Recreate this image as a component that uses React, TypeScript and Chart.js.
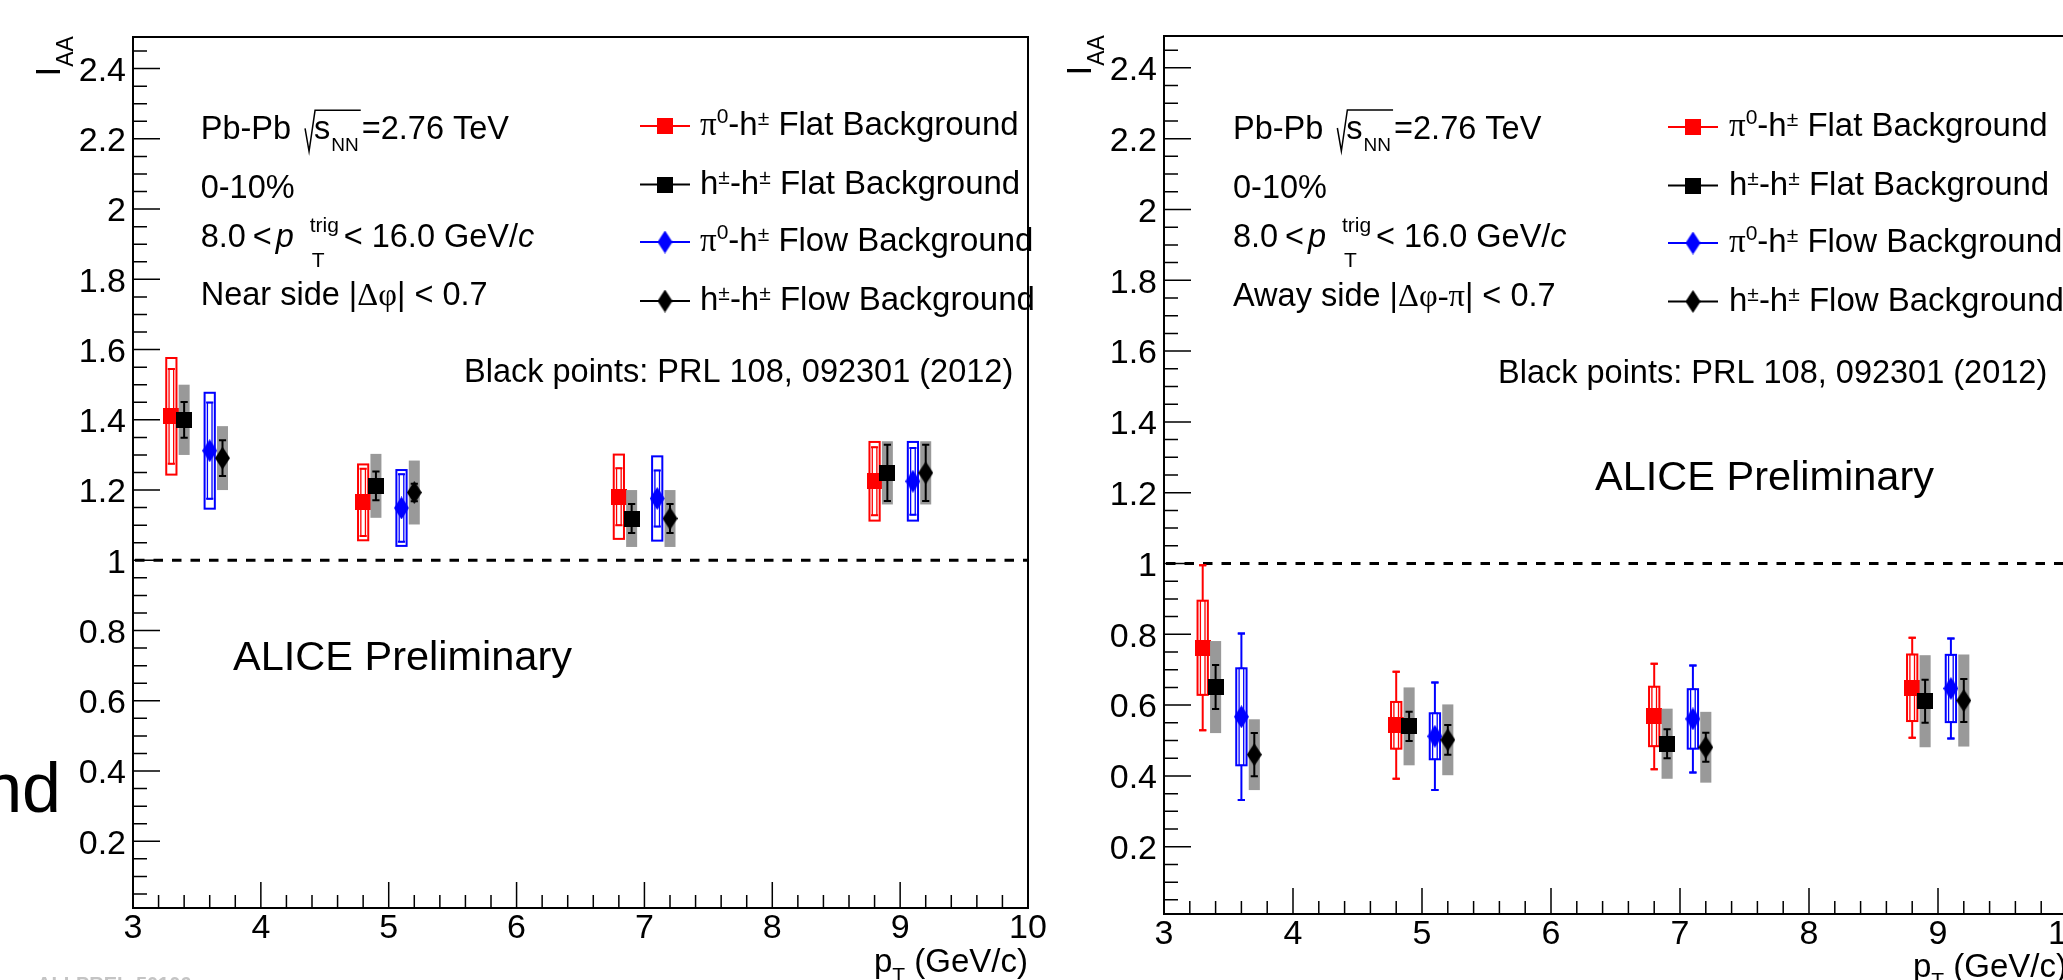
import React, { useEffect, useRef } from "react";
import { Chart, registerables } from "chart.js";

Chart.register(...registerables);

const SANS = '"Liberation Sans", Arial, Helvetica, sans-serif';
const SERIF = '"Liberation Serif", "DejaVu Serif", "Times New Roman", serif';

// ---------------- data ----------------
const PT_PI0_FLAT = [3.3, 4.8, 6.8, 8.8];
const PT_HH_FLAT = [3.4, 4.9, 6.9, 8.9];
const PT_PI0_FLOW = [3.6, 5.1, 7.1, 9.1];
const PT_HH_FLOW = [3.7, 5.2, 7.2, 9.2];

// near side
const NEAR_PI0_FLAT = [1.41, 1.165, 1.181, 1.225];
const NEAR_PI0_FLAT_STAT = [0.135, 0.096, 0.081, 0.097];
const NEAR_PI0_FLAT_SYS = [0.166, 0.108, 0.12, 0.112];
const NEAR_HH_FLAT = [1.4, 1.212, 1.119, 1.249];
const NEAR_HH_FLAT_STAT = [0.051, 0.041, 0.041, 0.08];
const NEAR_HH_FLAT_SYS = [0.1, 0.091, 0.081, 0.09];
const NEAR_PI0_FLOW = [1.312, 1.149, 1.176, 1.225];
const NEAR_PI0_FLOW_STAT = [0.137, 0.096, 0.08, 0.095];
const NEAR_PI0_FLOW_SYS = [0.165, 0.108, 0.12, 0.112];
const NEAR_HH_FLOW = [1.291, 1.193, 1.119, 1.249];
const NEAR_HH_FLOW_STAT = [0.051, 0.025, 0.041, 0.08];
const NEAR_HH_FLOW_SYS = [0.091, 0.091, 0.081, 0.09];

// away side
const AWAY_PI0_FLAT = [0.762, 0.543, 0.568, 0.649];
const AWAY_PI0_FLAT_STAT = [0.233, 0.151, 0.149, 0.141];
const AWAY_PI0_FLAT_SYS = [0.133, 0.066, 0.084, 0.094];
const AWAY_HH_FLAT = [0.651, 0.54, 0.491, 0.611];
const AWAY_HH_FLAT_STAT = [0.062, 0.041, 0.041, 0.061];
const AWAY_HH_FLAT_SYS = [0.13, 0.11, 0.099, 0.13];
const AWAY_PI0_FLOW = [0.567, 0.512, 0.561, 0.647];
const AWAY_PI0_FLOW_STAT = [0.235, 0.152, 0.151, 0.141];
const AWAY_PI0_FLOW_SYS = [0.137, 0.065, 0.084, 0.095];
const AWAY_HH_FLOW = [0.46, 0.502, 0.481, 0.613];
const AWAY_HH_FLOW_STAT = [0.061, 0.042, 0.041, 0.061];
const AWAY_HH_FLOW_SYS = [0.1, 0.1, 0.1, 0.13];

const X_TICKS = [3, 4, 5, 6, 7, 8, 9, 10];
const Y_TICKS = [0.2, 0.4, 0.6, 0.8, 1, 1.2, 1.4, 1.6, 1.8, 2, 2.2, 2.4];
const X_RANGE = [3, 10];
const Y_RANGE = [0.01, 2.49];
const REFERENCE_LINE = 1;

const RED = "#ff0000";
const BLUE = "#0000ff";
const BLACK = "#000000";
const GREY = "#999999";

// ---------------- helpers ----------------
type Seg = { t: string; size?: number; italic?: boolean; serif?: boolean; dy?: number; dx?: number };

function segFont(s: Seg) {
  return `${s.italic ? "italic " : ""}${s.size ?? 32.5}px ${s.serif ? SERIF : SANS}`;
}

function segsWidth(ctx: CanvasRenderingContext2D, segs: Seg[]) {
  let w = 0;
  for (const s of segs) {
    ctx.font = segFont(s);
    w += ctx.measureText(s.t).width;
  }
  return w;
}

function drawSegs(ctx: CanvasRenderingContext2D, x0: number, y0: number, segs: Seg[]) {
  let x = x0;
  ctx.fillStyle = "#000";
  ctx.textAlign = "left";
  ctx.textBaseline = "alphabetic";
  for (const s of segs) {
    ctx.font = segFont(s);
    if (s.dx !== undefined) x = x0 + s.dx;
    ctx.fillText(s.t, x, y0 + (s.dy ?? 0));
    x += ctx.measureText(s.t).width;
  }
  return x;
}

function makeSquare(color: string, size: number) {
  const c = document.createElement("canvas");
  c.width = size;
  c.height = size;
  const g = c.getContext("2d")!;
  g.fillStyle = color;
  g.fillRect(0, 0, size, size);
  return c;
}

function makeDiamond(color: string, w: number, h: number) {
  const c = document.createElement("canvas");
  c.width = w;
  c.height = h;
  const g = c.getContext("2d")!;
  g.fillStyle = color;
  g.beginPath();
  g.moveTo(w / 2, 0);
  g.lineTo(w, h / 2);
  g.lineTo(w / 2, h);
  g.lineTo(0, h / 2);
  g.closePath();
  g.fill();
  return c;
}

const LEG_SIZE = 33;
const PI0: Seg[] = [{ t: "π", serif: true, size: LEG_SIZE }, { t: "0", size: 21, dy: -12 }];
const HPM: Seg[] = [{ t: "h", size: LEG_SIZE }, { t: "±", size: 21, dy: -10 }];
const DASH: Seg = { t: "-", size: LEG_SIZE };
const LEGEND_LABELS: Seg[][] = [
  [...PI0, DASH, ...HPM, { t: " Flat Background", size: LEG_SIZE }],
  [...HPM, DASH, ...HPM, { t: " Flat Background", size: LEG_SIZE }],
  [...PI0, DASH, ...HPM, { t: " Flow Background", size: LEG_SIZE }],
  [...HPM, DASH, ...HPM, { t: " Flow Background", size: LEG_SIZE }],
];

type PanelCfg = {
  left: number;
  W: number;
  area: { l: number; r: number; t: number; b: number };
  series: { y: number[]; stat: number[]; sys: number[] }[];
  sideLabel: Seg[];
  header: { x: number; ys: number[] };
  legend: { lineX: number; textX: number; ys: number[] };
  black: { x: number; y: number };
  alice: { x: number; y: number };
  xTitleY: number;
  extras?: boolean;
};

const SERIES_STYLE = [
  { x: PT_PI0_FLAT, color: RED, open: true, marker: "square" },
  { x: PT_HH_FLAT, color: BLACK, open: false, marker: "square" },
  { x: PT_PI0_FLOW, color: BLUE, open: true, marker: "diamond" },
  { x: PT_HH_FLOW, color: BLACK, open: false, marker: "diamond" },
];

const NEAR_CFG: PanelCfg = {
  left: 0,
  W: 1064,
  area: { l: 133, r: 1028, t: 37, b: 908 },
  series: [
    { y: NEAR_PI0_FLAT, stat: NEAR_PI0_FLAT_STAT, sys: NEAR_PI0_FLAT_SYS },
    { y: NEAR_HH_FLAT, stat: NEAR_HH_FLAT_STAT, sys: NEAR_HH_FLAT_SYS },
    { y: NEAR_PI0_FLOW, stat: NEAR_PI0_FLOW_STAT, sys: NEAR_PI0_FLOW_SYS },
    { y: NEAR_HH_FLOW, stat: NEAR_HH_FLOW_STAT, sys: NEAR_HH_FLOW_SYS },
  ],
  sideLabel: [{ t: "Near side |" }, { t: "Δφ", serif: true }, { t: "| < 0.7" }],
  header: { x: 200.7, ys: [139.3, 198.3, 246.7, 305] },
  legend: { lineX: 640, textX: 700, ys: [135, 193.5, 251, 310] },
  black: { x: 464, y: 381.7 },
  alice: { x: 233, y: 670 },
  xTitleY: 972,
  extras: true,
};

const AWAY_CFG: PanelCfg = {
  left: 1031,
  W: 1100,
  area: { l: 133, r: 1036, t: 36, b: 914 },
  series: [
    { y: AWAY_PI0_FLAT, stat: AWAY_PI0_FLAT_STAT, sys: AWAY_PI0_FLAT_SYS },
    { y: AWAY_HH_FLAT, stat: AWAY_HH_FLAT_STAT, sys: AWAY_HH_FLAT_SYS },
    { y: AWAY_PI0_FLOW, stat: AWAY_PI0_FLOW_STAT, sys: AWAY_PI0_FLOW_SYS },
    { y: AWAY_HH_FLOW, stat: AWAY_HH_FLOW_STAT, sys: AWAY_HH_FLOW_SYS },
  ],
  sideLabel: [{ t: "Away side |" }, { t: "Δφ-π", serif: true }, { t: "| < 0.7" }],
  header: { x: 202, ys: [139, 197.5, 247, 306] },
  legend: { lineX: 637, textX: 698, ys: [136, 194.5, 252, 310.5] },
  black: { x: 467, y: 382.5 },
  alice: { x: 564, y: 490 },
  xTitleY: 977,
};

function makePlugin(cfg: PanelCfg, markers: HTMLCanvasElement[]) {
  return {
    id: "rootStyle",
    beforeDatasetsDraw(chart: any) {
      const { ctx, chartArea: a } = chart;
      const y1 = chart.scales.y.getPixelForValue(REFERENCE_LINE);
      ctx.save();
      ctx.strokeStyle = "#000";
      ctx.lineWidth = 3;
      ctx.setLineDash([9.5, 9]);
      ctx.beginPath();
      ctx.moveTo(a.left + 2, y1);
      ctx.lineTo(a.right, y1);
      ctx.stroke();
      ctx.restore();
    },
    beforeDatasetDraw(chart: any, args: any) {
      const ds: any = chart.data.datasets[args.index];
      const ctx: CanvasRenderingContext2D = chart.ctx;
      const xs = chart.scales.x;
      const ys = chart.scales.y;
      const cap = 3.6;
      ctx.save();
      ctx.setLineDash([]);
      ds.data.forEach((p: any, i: number) => {
        const px = xs.getPixelForValue(p.x);
        const half = ds.open ? 0.04 : 0.043;
        const bx0 = xs.getPixelForValue(p.x - half);
        const bx1 = xs.getPixelForValue(p.x + half);
        const sHi = ys.getPixelForValue(p.y + ds.stat[i]);
        const sLo = ys.getPixelForValue(p.y - ds.stat[i]);
        const yHi = ys.getPixelForValue(p.y + ds.sys[i]);
        const yLo = ys.getPixelForValue(p.y - ds.sys[i]);
        const caps = (color: string) => {
          ctx.strokeStyle = color;
          ctx.lineWidth = 2;
          ctx.beginPath();
          ctx.moveTo(px - cap, sHi);
          ctx.lineTo(px + cap, sHi);
          ctx.moveTo(px - cap, sLo);
          ctx.lineTo(px + cap, sLo);
          ctx.stroke();
        };
        const statLine = (color: string) => {
          ctx.strokeStyle = color;
          ctx.lineWidth = 2;
          ctx.beginPath();
          ctx.moveTo(px, sHi);
          ctx.lineTo(px, sLo);
          ctx.stroke();
          caps(color);
        };
        if (!ds.open) {
          ctx.fillStyle = GREY;
          ctx.fillRect(bx0, yHi, bx1 - bx0, yLo - yHi);
          statLine(BLACK);
        } else {
          statLine(ds.color);
          ctx.fillStyle = "#fff";
          ctx.fillRect(bx0, yHi, bx1 - bx0, yLo - yHi);
          ctx.strokeStyle = ds.color;
          ctx.lineWidth = 2;
          ctx.strokeRect(bx0, yHi, bx1 - bx0, yLo - yHi);
          const iTop = Math.max(sHi, yHi);
          const iBot = Math.min(sLo, yLo);
          ctx.lineWidth = 1.3;
          ctx.strokeRect(px - 2.3, iTop, 4.6, iBot - iTop);
          caps(ds.color);
        }
      });
      ctx.restore();
    },
    afterDraw(chart: any) {
      const ctx: CanvasRenderingContext2D = chart.ctx;
      const a = chart.chartArea;
      const xs = chart.scales.x;
      const ys = chart.scales.y;
      ctx.save();
      ctx.setLineDash([]);
      // ticks (inside)
      ctx.strokeStyle = "#000";
      ctx.lineWidth = 1.5;
      ctx.beginPath();
      const nx = Math.round((X_RANGE[1] - X_RANGE[0]) / 0.2);
      for (let i = 0; i <= nx; i++) {
        const v = X_RANGE[0] + i * 0.2;
        const px = xs.getPixelForValue(v);
        const len = i % 5 === 0 ? 26 : 13;
        ctx.moveTo(px, a.bottom);
        ctx.lineTo(px, a.bottom - len);
      }
      for (let j = 1; j <= 49; j++) {
        const v = j * 0.05;
        if (v < Y_RANGE[0] || v > Y_RANGE[1]) continue;
        const py = ys.getPixelForValue(v);
        const len = j % 4 === 0 ? 27 : 14;
        ctx.moveTo(a.left, py);
        ctx.lineTo(a.left + len, py);
      }
      ctx.stroke();
      // frame
      ctx.lineWidth = 2;
      ctx.strokeRect(a.left, a.top, a.right - a.left, a.bottom - a.top);

      // y title I_AA (rotated)
      ctx.save();
      ctx.translate(a.left - 73, a.top + 39.5);
      ctx.rotate(-Math.PI / 2);
      ctx.fillStyle = "#000";
      ctx.textBaseline = "alphabetic";
      ctx.textAlign = "left";
      ctx.font = `35px ${SANS}`;
      ctx.fillText("I", 0, 0);
      const iw = ctx.measureText("I").width;
      ctx.font = `23px ${SANS}`;
      ctx.fillText("AA", iw, 13);
      ctx.restore();

      // x title
      const xt: Seg[] = [{ t: "p", size: 33 }, { t: "T", size: 21, dy: 10 }, { t: " (GeV/c)", size: 33 }];
      const xw = segsWidth(ctx, xt);
      drawSegs(ctx, a.right - xw, cfg.xTitleY, xt);

      // header block
      const hx = cfg.header.x;
      const hy = cfg.header.ys;
      ctx.fillStyle = "#000";
      ctx.font = `32.5px ${SANS}`;
      ctx.fillText("Pb-Pb", hx, hy[0]);
      const rx = hx + ctx.measureText("Pb-Pb ").width + 5;
      const sx = rx + 9;
      ctx.fillText("s", sx, hy[0]);
      let e = sx + ctx.measureText("s").width;
      ctx.font = `19px ${SANS}`;
      ctx.fillText("NN", e + 1, hy[0] + 12);
      e += 1 + ctx.measureText("NN").width;
      ctx.strokeStyle = "#000";
      ctx.lineWidth = 1.5;
      ctx.beginPath();
      ctx.moveTo(rx, hy[0] - 11);
      ctx.lineTo(rx + 4, hy[0] + 12);
      ctx.lineTo(rx + 10, hy[0] - 29);
      ctx.lineTo(e + 2, hy[0] - 29);
      ctx.stroke();
      ctx.font = `32.5px ${SANS}`;
      ctx.fillText("=2.76 TeV", e + 3, hy[0]);
      ctx.fillText("0-10%", hx, hy[1]);
      drawSegs(ctx, hx, hy[2], [
        { t: "8.0", dx: 0 },
        { t: "<", dx: 52 },
        { t: "p", italic: true, dx: 75 },
        { t: "trig", size: 21, dx: 109, dy: -15 },
        { t: "T", size: 21, dx: 111, dy: 20 },
        { t: "< 16.0 GeV/", dx: 143 },
        { t: "c", italic: true },
      ]);
      drawSegs(ctx, hx, hy[3], cfg.sideLabel);

      // legend
      cfg.legend.ys.forEach((by, k) => {
        const st = SERIES_STYLE[k];
        const ly = by - 9;
        ctx.strokeStyle = st.color;
        ctx.lineWidth = 2;
        ctx.beginPath();
        ctx.moveTo(cfg.legend.lineX, ly);
        ctx.lineTo(cfg.legend.lineX + 50, ly);
        ctx.stroke();
        const m = markers[k];
        ctx.drawImage(m, cfg.legend.lineX + 25 - m.width / 2, ly - m.height / 2);
        drawSegs(ctx, cfg.legend.textX, by, LEGEND_LABELS[k]);
      });

      // notes
      ctx.fillStyle = "#000";
      ctx.font = `32.5px ${SANS}`;
      ctx.fillText("Black points: PRL 108, 092301 (2012)", cfg.black.x, cfg.black.y);
      ctx.font = `41.5px ${SANS}`;
      ctx.fillText("ALICE Preliminary", cfg.alice.x, cfg.alice.y);

      if (cfg.extras) {
        ctx.font = `70px ${SANS}`;
        ctx.textAlign = "right";
        ctx.fillText("nd", 61, 812);
        ctx.textAlign = "left";
        ctx.fillStyle = "#c4c4c4";
        ctx.font = `bold 20px ${SANS}`;
        ctx.fillText("ALI-PREL-50106", 37, 991);
      }
      ctx.restore();
    },
  };
}

function Panel({ cfg }: { cfg: PanelCfg }) {
  const ref = useRef<HTMLCanvasElement>(null);
  useEffect(() => {
    const markers = SERIES_STYLE.map((s) =>
      s.marker === "square" ? makeSquare(s.color, 16) : makeDiamond(s.color, 15, 23)
    );
    const H = 980;
    const a = cfg.area;
    const datasets: any[] = SERIES_STYLE.map((st, k) => ({
      label: `s${k}`,
      data: st.x.map((xv, i) => ({ x: xv, y: cfg.series[k].y[i] })),
      stat: cfg.series[k].stat,
      sys: cfg.series[k].sys,
      open: st.open,
      color: st.color,
      pointStyle: markers[k],
      pointRadius: 10,
      showLine: false,
      order: 4 - k,
    }));
    const chart = new Chart(ref.current!, {
      type: "scatter",
      data: { datasets },
      options: {
        responsive: false,
        animation: false,
        devicePixelRatio: 1,
        events: [],
        layout: { padding: { left: 0, top: a.t, right: cfg.W - a.r, bottom: 0 } },
        plugins: { legend: { display: false }, tooltip: { enabled: false }, title: { display: false } },
        scales: {
          x: {
            type: "linear",
            min: X_RANGE[0],
            max: X_RANGE[1],
            grid: { display: false, drawTicks: false },
            border: { display: false },
            ticks: {
              autoSkip: false,
              maxRotation: 0,
              minRotation: 0,
              padding: 0,
              color: "#000",
              font: { family: SANS, size: 34 },
              callback: (v: any) => String(v),
            },
            afterBuildTicks: (s: any) => {
              s.ticks = X_TICKS.map((v) => ({ value: v }));
            },
            afterFit: (s: any) => {
              s.height = H - a.b;
            },
          },
          y: {
            type: "linear",
            min: Y_RANGE[0],
            max: Y_RANGE[1],
            grid: { display: false, drawTicks: false },
            border: { display: false },
            ticks: {
              padding: 7,
              labelOffset: 3,
              color: "#000",
              font: { family: SANS, size: 34 },
              callback: (v: any) => String(Math.round(Number(v) * 10) / 10),
            },
            afterBuildTicks: (s: any) => {
              s.ticks = Y_TICKS.map((v) => ({ value: v }));
            },
            afterFit: (s: any) => {
              s.width = a.l;
            },
          },
        },
      } as any,
      plugins: [makePlugin(cfg, markers) as any],
    });
    return () => chart.destroy();
  }, [cfg]);
  return (
    <canvas
      ref={ref}
      width={cfg.W}
      height={980}
      style={{ position: "absolute", left: cfg.left, top: 0, width: cfg.W, height: 980 }}
    />
  );
}

export default function App() {
  return (
    <div
      style={{
        position: "absolute",
        left: 0,
        top: 0,
        width: 2063,
        height: 980,
        overflow: "hidden",
        background: "#fff",
      }}
    >
      <Panel cfg={NEAR_CFG} />
      <Panel cfg={AWAY_CFG} />
    </div>
  );
}
